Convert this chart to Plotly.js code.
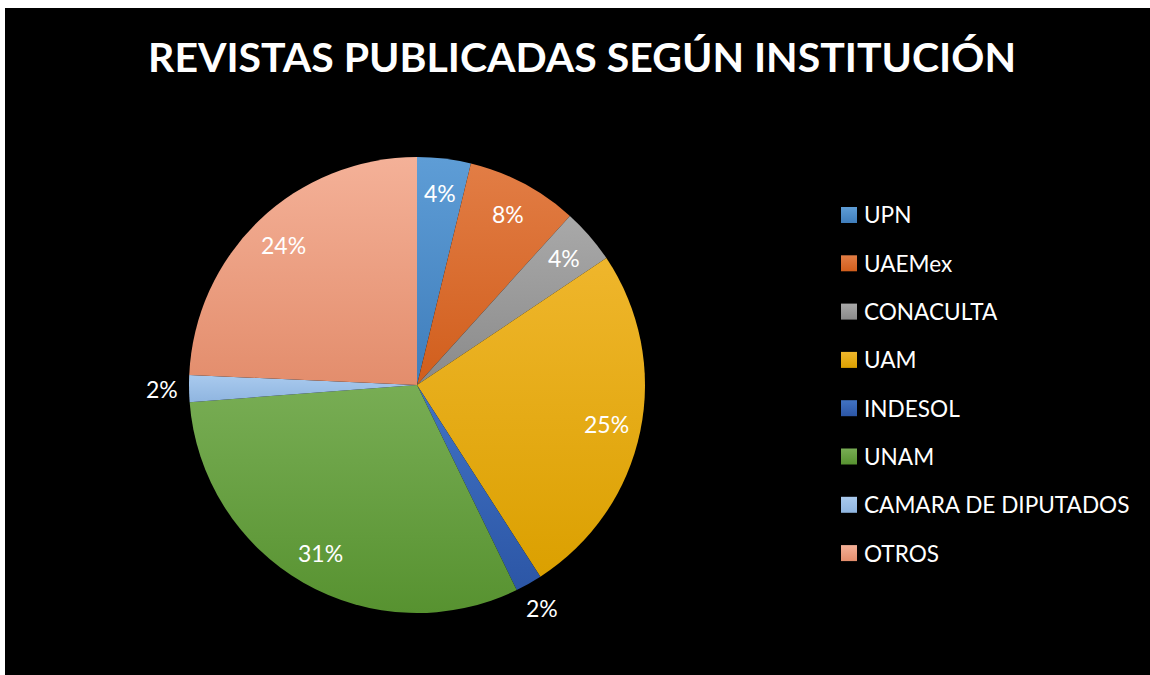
<!DOCTYPE html>
<html>
<head>
<meta charset="utf-8">
<script src="https://cdn.plot.ly/plotly-3.0.1.min.js"></script>
<style>
  html, body { margin: 0; padding: 0; background: #ffffff; }
  #chart { position: absolute; left: 5px; top: 8px; width: 1145px; height: 667px; }
</style>
</head>
<body>
<div id="chart"></div>
<script>
// ---- data (shares in %) ----
const institutions = ["UPN", "UAEMex", "CONACULTA", "UAM", "INDESOL", "UNAM", "CAMARA DE DIPUTADOS", "OTROS"];
const shares = [3.8, 7.9, 3.9, 25.3, 1.9, 31.0, 1.9, 24.3];
const chartTitle = "REVISTAS PUBLICADAS SEGÚN INSTITUCIÓN";

// ---- styles ----
const baseColors = ["#4d8dca", "#dd6c2a", "#999999", "#e8aa0a", "#3463b5", "#66a03c", "#9dc1e7", "#eda084"];
const topColors  = ["#5e9dd6", "#e27d45", "#a9a9a9", "#efb62c", "#4173c4", "#78ad54", "#a9caee", "#f4b198"];
const botColors  = ["#3f7dbb", "#d15e1c", "#8a8a8a", "#dba000", "#2c56a6", "#579230", "#8fb5e0", "#e38d6c"];
const labelOutside = [false, false, false, false, true, false, true, false];
const FONT = "Lato, 'Open Sans', sans-serif";

const W = 1145, H = 667;
const cx = 412, cy = 377, R = 228;
const domX = [(cx - R) / W, (cx + R) / W];
const domY = [(H - cy - R) / H, (H - cy + R) / H];

const trace = {
  type: "pie",
  labels: institutions,
  values: shares,
  sort: false,
  direction: "clockwise",
  rotation: 0,
  marker: { colors: baseColors, line: { width: 0 } },
  textinfo: "none",
  showlegend: false,
  hoverinfo: "label+percent",
  domain: { x: domX, y: domY }
};

const annotations = [];
const shapes = [];

// data labels, placed along each slice's bisector (Excel "best fit" style)
const total = shares.reduce((a, b) => a + b, 0);
let cum = 0;
shares.forEach((v, i) => {
  const mid = (cum + v / 2) / total * 2 * Math.PI;
  cum += v;
  const r = labelOutside[i] ? 1.12 * R : 0.85 * R;
  const px = cx + r * Math.sin(mid);
  const py = cy - r * Math.cos(mid);
  annotations.push({
    xref: "paper", yref: "paper",
    x: px / W, y: 1 - py / H,
    xanchor: "center", yanchor: "middle",
    text: Math.round(v / total * 100) + "%",
    showarrow: false,
    font: { family: FONT, size: 23, color: "#ffffff" }
  });
});

// legend built from the category array
const legX0 = 836, legY0 = 207, legStep = 48.3, sq = 16;
institutions.forEach((name, i) => {
  const yc = legY0 + i * legStep;
  shapes.push({
    type: "rect", xref: "paper", yref: "paper",
    x0: legX0 / W, x1: (legX0 + sq) / W,
    y0: 1 - (yc + sq / 2) / H, y1: 1 - (yc - sq / 2) / H,
    fillcolor: baseColors[i], line: { width: 0 }
  });
  annotations.push({
    xref: "paper", yref: "paper",
    x: (legX0 + sq + 5) / W, y: 1 - yc / H,
    xanchor: "left", yanchor: "middle",
    text: name, showarrow: false,
    font: { family: FONT, size: 22.6, color: "#ffffff" }
  });
});

const layout = {
  width: W, height: H,
  paper_bgcolor: "#000000",
  plot_bgcolor: "#000000",
  margin: { l: 0, r: 0, t: 0, b: 0 },
  title: {
    text: "<b>" + chartTitle + "</b>",
    font: { family: FONT, size: 41, color: "#ffffff" },
    x: 577 / W, xanchor: "center", xref: "paper",
    y: 1 - 50 / H, yanchor: "middle", yref: "container"
  },
  annotations: annotations,
  shapes: shapes,
  showlegend: false
};

Plotly.newPlot("chart", [trace], layout, { displayModeBar: false, staticPlot: true }).then(gd => {
  const svgNS = "http://www.w3.org/2000/svg";
  const svg = gd.querySelector("svg.main-svg");
  let defs = svg.querySelector("defs");
  if (!defs) { defs = document.createElementNS(svgNS, "defs"); svg.insertBefore(defs, svg.firstChild); }
  baseColors.forEach((c, i) => {
    const g = document.createElementNS(svgNS, "linearGradient");
    g.setAttribute("id", "sliceGrad" + i);
    g.setAttribute("x1", "0"); g.setAttribute("y1", "0");
    g.setAttribute("x2", "0"); g.setAttribute("y2", "1");
    [[0, topColors[i]], [1, botColors[i]]].forEach(([o, col]) => {
      const s = document.createElementNS(svgNS, "stop");
      s.setAttribute("offset", o);
      s.setAttribute("stop-color", col);
      g.appendChild(s);
    });
    defs.appendChild(g);
  });
  gd.querySelectorAll("g.slice path.surface").forEach((p, i) => {
    p.style.fill = "url(#sliceGrad" + i + ")";
  });
  const rects = gd.querySelectorAll(".shapelayer path");
  rects.forEach((p, i) => { if (i < baseColors.length) p.style.fill = "url(#sliceGrad" + i + ")"; });
});
</script>
</body>
</html>
